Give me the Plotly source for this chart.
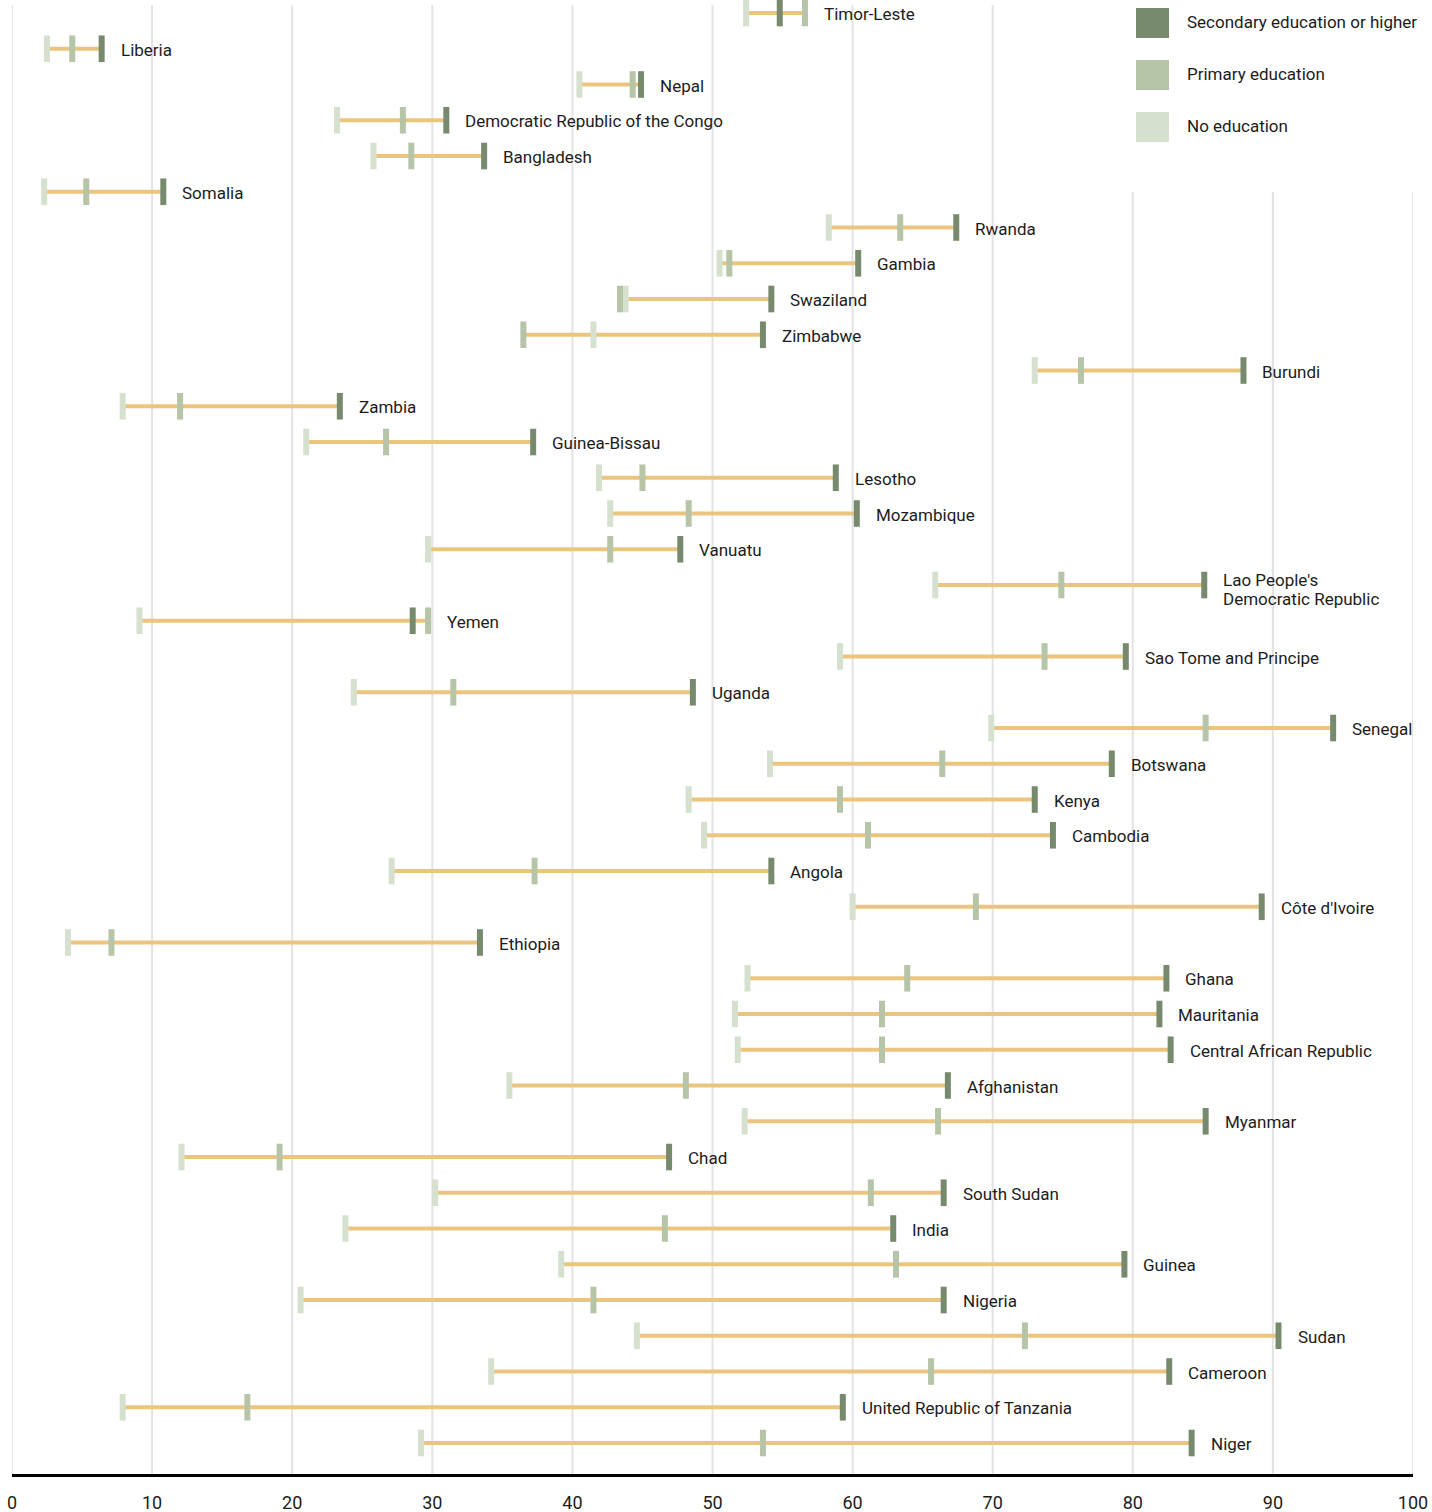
import plotly.graph_objects as go

countries = [
    "Timor-Leste", "Liberia", "Nepal", "Democratic Republic of the Congo", "Bangladesh",
    "Somalia", "Rwanda", "Gambia", "Swaziland", "Zimbabwe", "Burundi", "Zambia",
    "Guinea-Bissau", "Lesotho", "Mozambique", "Vanuatu",
    "Lao People's<br>Democratic Republic", "Yemen", "Sao Tome and Principe", "Uganda",
    "Senegal", "Botswana", "Kenya", "Cambodia", "Angola", "Côte d'Ivoire", "Ethiopia",
    "Ghana", "Mauritania", "Central African Republic", "Afghanistan", "Myanmar", "Chad",
    "South Sudan", "India", "Guinea", "Nigeria", "Sudan", "Cameroon",
    "United Republic of Tanzania", "Niger",
]
no_education = [
    52.4, 2.5, 40.5, 23.2, 25.8, 2.3, 58.3, 50.5, 43.8, 41.5, 73.0, 7.9, 21.0, 41.9,
    42.7, 29.7, 65.9, 9.1, 59.1, 24.4, 69.9, 54.1, 48.3, 49.4, 27.1, 60.0, 4.0, 52.5,
    51.6, 51.8, 35.5, 52.3, 12.1, 30.2, 23.8, 39.2, 20.6, 44.6, 34.2, 7.9, 29.2,
]
primary = [
    56.6, 4.3, 44.3, 27.9, 28.5, 5.3, 63.4, 51.2, 43.4, 36.5, 76.3, 12.0, 26.7, 45.0,
    48.3, 42.7, 74.9, 29.7, 73.7, 31.5, 85.2, 66.4, 59.1, 61.1, 37.3, 68.8, 7.1, 63.9,
    62.1, 62.1, 48.1, 66.1, 19.1, 61.3, 46.6, 63.1, 41.5, 72.3, 65.6, 16.8, 53.6,
]
secondary = [
    54.8, 6.4, 44.9, 31.0, 33.7, 10.8, 67.4, 60.4, 54.2, 53.6, 87.9, 23.4, 37.2, 58.8,
    60.3, 47.7, 85.1, 28.6, 79.5, 48.6, 94.3, 78.5, 73.0, 74.3, 54.2, 89.2, 33.4, 82.4,
    81.9, 82.7, 66.8, 85.2, 46.9, 66.5, 62.9, 79.4, 66.5, 90.4, 82.6, 59.3, 84.2,
]
x_ticks = [0, 10, 20, 30, 40, 50, 60, 70, 80, 90, 100]
series_names = ["Secondary education or higher", "Primary education", "No education"]

C_SEC = "#788A6E"
C_PRI = "#B6C4A8"
C_NO = "#D6E0CE"
C_LINE = "#EBC47E"
FONT = "Roboto, Liberation Sans, sans-serif"
FS = 17

W, H = 1432, 1512
ML, MR, MT, MB = 12, 19, 5, 38
PW = W - ML - MR
PH = H - MT - MB


def xp(px):
    return (px - ML) / PW


def yp(py):
    return (H - MB - py) / PH


fig = go.Figure()

# connecting lines
lx, ly = [], []
for c, a, b, s in zip(countries, no_education, primary, secondary):
    lo, hi = min(a, b, s), max(a, b, s)
    lx += [lo, hi, None]
    ly += [c, c, None]
fig.add_trace(go.Scatter(x=lx, y=ly, mode="lines", line=dict(color=C_LINE, width=4),
                         hoverinfo="skip", showlegend=False))

for vals, col, name in [(no_education, C_NO, series_names[2]),
                        (primary, C_PRI, series_names[1]),
                        (secondary, C_SEC, series_names[0])]:
    fig.add_trace(go.Scatter(
        x=vals, y=countries, mode="markers", name=name, showlegend=False,
        marker=dict(symbol="line-ns", size=19, line=dict(width=6, color=col)),
        cliponaxis=False,
    ))

# country labels
for c, a, b, s in zip(countries, no_education, primary, secondary):
    lines = c.split("<br>")
    shifts = [0] if len(lines) == 1 else [6, -13]
    for ln, sh in zip(lines, shifts):
        fig.add_annotation(x=max(a, b, s), y=c, text=ln, showarrow=False, xanchor="left",
                           xshift=17, yshift=sh - 1, align="left",
                           font=dict(family=FONT, size=FS, color="#1c1c1c"))

# gridlines
for t in x_ticks:
    top = 1.0 if t < 80 else yp(192)
    fig.add_shape(type="line", xref="x", yref="paper", x0=t, x1=t, y0=0, y1=top,
                  line=dict(color="#E3E3E3", width=2), layer="below")

# custom legend
for i, (name, col) in enumerate(zip(series_names, [C_SEC, C_PRI, C_NO])):
    y0 = 8 + 52 * i
    fig.add_shape(type="rect", xref="paper", yref="paper", x0=xp(1136), x1=xp(1169),
                  y0=yp(y0 + 30), y1=yp(y0), fillcolor=col, line=dict(width=0))
    fig.add_annotation(xref="paper", yref="paper", x=xp(1185), y=yp(y0 + 14), text=name,
                       showarrow=False, xanchor="left", yanchor="middle",
                       font=dict(family=FONT, size=FS, color="#1c1c1c"))

fig.update_layout(
    width=W, height=H, margin=dict(l=ML, r=MR, t=MT, b=MB, autoexpand=False),
    plot_bgcolor="white", paper_bgcolor="white",
    xaxis=dict(range=[0, 100], tickvals=x_ticks, ticktext=[str(t) for t in x_ticks],
               showgrid=False, zeroline=False, showline=True, linecolor="black",
               linewidth=3, ticks="outside", ticklen=10, tickcolor="rgba(0,0,0,0)",
               tickfont=dict(family=FONT, size=18, color="#1c1c1c")),
    yaxis=dict(type="category", categoryorder="array", categoryarray=countries,
               range=[40.867, -0.224], showgrid=False, zeroline=False,
               showticklabels=False, showline=False),
)

fig.write_html("out.html", config={"displayModeBar": False},
               post_script="document.body.style.margin='0';document.body.style.overflow='hidden';")
